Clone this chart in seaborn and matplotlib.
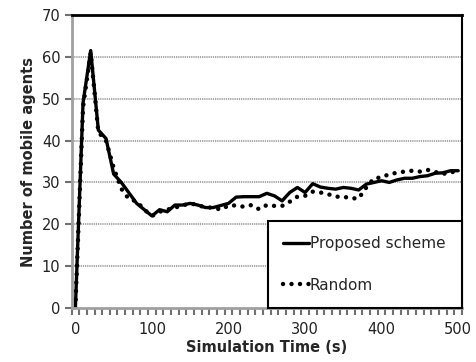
import matplotlib
matplotlib.use("Agg")
import matplotlib.pyplot as plt
import seaborn as sns
import pandas as pd
import numpy as np

sim_time = list(range(0, 501, 10))
proposed = [0, 49, 61.5, 42.5, 40.5, 32, 30, 27.5, 25, 23.5,
            22, 23.5, 23, 24.6, 24.6, 25, 24.6, 24, 24, 24.5,
            25, 26.5, 26.6, 26.6, 26.6, 27.4, 26.8, 25.6, 27.6, 28.8,
            27.6, 29.7, 28.9, 28.6, 28.4, 28.8, 28.6, 28.2, 29.6, 30,
            30.4, 30, 30.6, 31, 31, 31.4, 31.6, 32.2, 32.3, 32.8, 32.8]
random_ = [0, 48, 61, 42, 40, 33.5, 28.5, 26, 25.5, 23.5,
           22, 23, 23.5, 24, 24.5, 25, 24.6, 24, 24, 23.5,
           24.5, 24.5, 24.2, 24.6, 23.6, 24.6, 24.4, 24.4, 25.4, 26.6,
           26.8, 27.8, 27.6, 27.2, 26.6, 26.6, 26.2, 26.2, 28.8, 31,
           31.2, 32, 32.3, 32.6, 32.8, 32.6, 33, 32.5, 32, 32.5, 32.5]
series_names = ["Proposed scheme", "Random"]
y_ticks = [0, 10, 20, 30, 40, 50, 60, 70]
x_tick_labels = [0, 100, 200, 300, 400, 500]

df = pd.DataFrame({
    "t": sim_time * 2,
    "v": proposed + random_,
    "s": [series_names[0]] * len(sim_time) + [series_names[1]] * len(sim_time),
})

sns.set_style("white")
plt.rcParams.update({
    "font.family": ["DejaVu Sans"],
    "xtick.bottom": True, "ytick.left": True,
    "xtick.minor.bottom": True,
    "xtick.direction": "out", "ytick.direction": "out",
})

fig = plt.figure(figsize=(4.77, 3.62), dpi=100)
ax = fig.add_axes([0.150, 0.149, 0.8186, 0.8097])

sns.lineplot(data=df[df.s == series_names[0]], x="t", y="v", ax=ax,
             color="black", linewidth=2.4, label=series_names[0],
             solid_joinstyle="round")
sns.lineplot(data=df[df.s == series_names[1]], x="t", y="v", ax=ax,
             color="black", linewidth=3.2, linestyle=(0, (0.01, 1.9)),
             dash_capstyle="round", label=series_names[1])

ax.set_xlim(-5, 505)
ax.set_ylim(0, 70)
ax.set_yticks(y_ticks)
ax.set_yticklabels([str(v) for v in y_ticks], fontsize=10.5, color="#222222")
ax.set_xticks(x_tick_labels)
ax.set_xticklabels([str(v) for v in x_tick_labels], fontsize=10.5, color="#222222")
ax.xaxis.set_minor_locator(matplotlib.ticker.FixedLocator(np.arange(-5, 506, 10)))
ax.tick_params(axis="x", which="major", bottom=True, length=0, pad=10)
ax.tick_params(axis="x", which="minor", bottom=True, length=5, width=1.5, color="#707070")
ax.tick_params(axis="y", which="major", left=True, length=5, width=1.5, color="#707070", pad=3)

for y in y_ticks[1:-1]:
    ax.axhline(y, color="#a0a0a0", linewidth=1.3, linestyle=(0, (0.7, 0.5)), zorder=0)

ax.spines["left"].set_color("#a0a0a0")
ax.spines["left"].set_linewidth(2)
ax.spines["bottom"].set_color("#a0a0a0")
ax.spines["bottom"].set_linewidth(2)
ax.spines["top"].set_color("black")
ax.spines["top"].set_linewidth(2)
ax.spines["right"].set_color("black")
ax.spines["right"].set_linewidth(1.5)

ax.set_xlabel("Simulation Time (s)", fontsize=10.5, fontweight="bold", labelpad=2)
ax.set_ylabel("Number of mobile agents", fontsize=10.5, fontweight="bold", labelpad=4)

leg = ax.legend(loc="lower left", bbox_to_anchor=(0.502, 0.0, 0.498, 0.282),
                mode="expand", borderaxespad=0, frameon=True, fancybox=False,
                fontsize=11, handlelength=1.7, handletextpad=0.05,
                labelspacing=1.75, borderpad=1.0)
leg.get_frame().set_edgecolor("black")
leg.get_frame().set_linewidth(1.5)
leg.get_frame().set_facecolor("white")
leg.get_frame().set_alpha(1)

fig.savefig("out.png", dpi=100)
